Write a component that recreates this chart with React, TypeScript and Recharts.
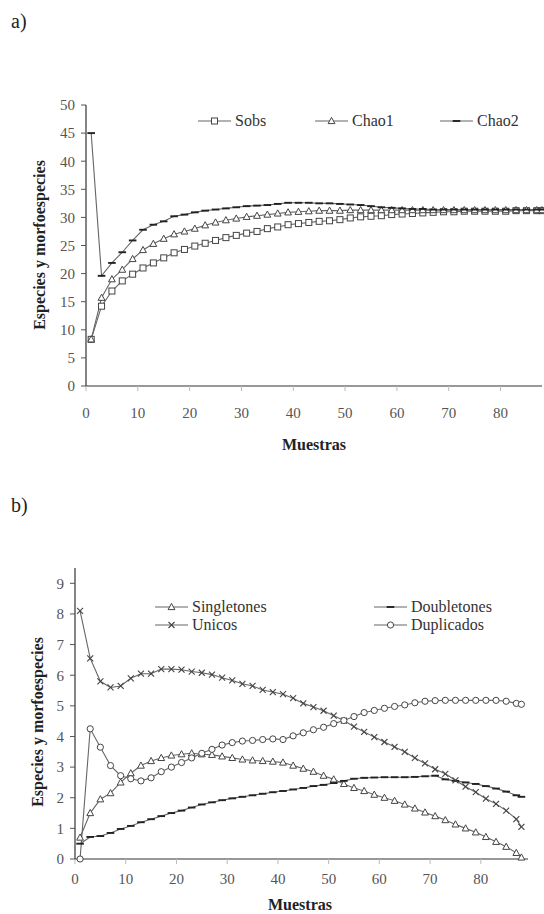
import React from 'react'
import { LineChart, Line, XAxis, YAxis, Legend } from 'recharts'

// muestras (cada 2, mas la ultima)
const muestras = [1, 3, 5, 7, 9, 11, 13, 15, 17, 19, 21, 23, 25, 27, 29, 31, 33, 35, 37, 39, 41, 43, 45, 47, 49, 51, 53, 55, 57, 59, 61, 63, 65, 67, 69, 71, 73, 75, 77, 79, 81, 83, 85, 87, 88]

// a) curvas de acumulacion
const sobs = [8.3, 14.2, 16.9, 18.7, 19.9, 21.0, 21.9, 22.8, 23.7, 24.3, 24.9, 25.4, 25.9, 26.4, 26.8, 27.2, 27.5, 28.0, 28.3, 28.7, 28.9, 29.1, 29.3, 29.4, 29.6, 29.9, 30.1, 30.2, 30.3, 30.5, 30.6, 30.7, 30.8, 30.9, 31.0, 31.0, 31.1, 31.1, 31.1, 31.1, 31.1, 31.2, 31.2, 31.2, 31.2]
const chao1 = [8.3, 15.7, 19.0, 20.7, 22.6, 24.2, 25.3, 26.2, 27.0, 27.5, 28.0, 28.6, 29.1, 29.5, 29.8, 30.1, 30.3, 30.5, 30.7, 30.9, 31.0, 31.1, 31.2, 31.2, 31.2, 31.3, 31.3, 31.3, 31.3, 31.3, 31.3, 31.3, 31.3, 31.3, 31.3, 31.3, 31.3, 31.3, 31.3, 31.3, 31.3, 31.3, 31.3, 31.3, 31.3]
const chao2 = [45, 19.6, 21.9, 23.8, 25.9, 27.8, 28.7, 29.3, 30.2, 30.5, 30.9, 31.2, 31.4, 31.6, 31.8, 32.0, 32.1, 32.2, 32.4, 32.6, 32.6, 32.6, 32.5, 32.5, 32.4, 32.3, 32.2, 32.0, 31.8, 31.7, 31.6, 31.5, 31.5, 31.4, 31.4, 31.4, 31.4, 31.4, 31.4, 31.4, 31.4, 31.4, 31.4, 31.4, 31.4]

// b) especies raras
const singletones = [0.7, 1.5, 1.95, 2.15, 2.5, 2.8, 3.05, 3.2, 3.3, 3.38, 3.42, 3.45, 3.42, 3.4, 3.35, 3.3, 3.25, 3.22, 3.2, 3.18, 3.15, 3.05, 2.95, 2.85, 2.72, 2.6, 2.45, 2.32, 2.22, 2.1, 2.0, 1.9, 1.78, 1.65, 1.52, 1.4, 1.27, 1.13, 1.0, 0.87, 0.72, 0.56, 0.4, 0.2, 0.05]
const doubletones = [0.5, 0.72, 0.75, 0.85, 0.98, 1.08, 1.2, 1.3, 1.4, 1.5, 1.58, 1.68, 1.78, 1.85, 1.92, 1.98, 2.03, 2.08, 2.13, 2.18, 2.22, 2.27, 2.32, 2.38, 2.42, 2.48, 2.55, 2.62, 2.65, 2.66, 2.67, 2.67, 2.67, 2.68, 2.7, 2.72, 2.6, 2.55, 2.5, 2.45, 2.38, 2.3, 2.2, 2.08, 2.03]
const unicos = [8.1, 6.55, 5.8, 5.6, 5.65, 5.9, 6.05, 6.05, 6.2, 6.2, 6.18, 6.12, 6.08, 6.02, 5.92, 5.83, 5.72, 5.65, 5.52, 5.45, 5.38, 5.25, 5.08, 4.96, 4.84, 4.68, 4.52, 4.32, 4.15, 3.98, 3.82, 3.66, 3.5, 3.3, 3.12, 2.93, 2.78, 2.57, 2.36, 2.18, 1.97, 1.8, 1.58, 1.3, 1.05]
const duplicados = [0, 4.25, 3.65, 3.05, 2.72, 2.62, 2.55, 2.65, 2.85, 3.0, 3.15, 3.3, 3.45, 3.58, 3.72, 3.8, 3.85, 3.87, 3.9, 3.92, 3.9, 4.02, 4.12, 4.22, 4.3, 4.42, 4.52, 4.65, 4.78, 4.85, 4.92, 4.98, 5.03, 5.1, 5.15, 5.17, 5.18, 5.18, 5.18, 5.18, 5.18, 5.18, 5.15, 5.08, 5.05]

const xTicks = [0, 10, 20, 30, 40, 50, 60, 70, 80]
const yTicksA = [0, 5, 10, 15, 20, 25, 30, 35, 40, 45, 50]
const yTicksB = [0, 1, 2, 3, 4, 5, 6, 7, 8, 9]

const dataA = muestras.map((m, i) => ({ m, sobs: sobs[i], chao1: chao1[i], chao2: chao2[i] }))
const dataB = muestras.map((m, i) => ({
  m,
  singletones: singletones[i],
  doubletones: doubletones[i],
  unicos: unicos[i],
  duplicados: duplicados[i],
}))

const SERIF = '"Liberation Serif", "Times New Roman", serif'
const INK = '#444'
const LINE = '#666'

type MarkKind = 'square' | 'triangle' | 'dash' | 'cross' | 'circle'

const Mark = ({ kind, cx, cy }: { kind: MarkKind; cx: number; cy: number }) => {
  if (kind === 'square')
    return <rect x={cx - 3} y={cy - 3} width={6} height={6} fill="#fff" stroke={INK} strokeWidth={1} />
  if (kind === 'triangle')
    return <path d={`M${cx},${cy - 3.6} L${cx + 3.4},${cy + 2.6} L${cx - 3.4},${cy + 2.6} Z`} fill="#fff" stroke={INK} strokeWidth={1} />
  if (kind === 'dash')
    return <line x1={cx - 3.8} y1={cy} x2={cx + 3.8} y2={cy} stroke="#222" strokeWidth={1.9} />
  if (kind === 'cross')
    return (
      <g stroke={INK} strokeWidth={1.1}>
        <line x1={cx - 3} y1={cy - 3} x2={cx + 3} y2={cy + 3} />
        <line x1={cx - 3} y1={cy + 3} x2={cx + 3} y2={cy - 3} />
      </g>
    )
  return <circle cx={cx} cy={cy} r={3.1} fill="#fff" stroke={INK} strokeWidth={1} />
}

const dotOf = (kind: MarkKind) => (props: any) => {
  const { cx, cy, index } = props
  if (cx == null || cy == null) return <g key={`e${index}`} />
  return (
    <g key={`${kind}-${index}`}>
      <Mark kind={kind} cx={cx} cy={cy} />
    </g>
  )
}

interface KeyItem {
  name: string
  kind: MarkKind
  left: number
  top: number
}

const keysA: KeyItem[] = [
  { name: 'Sobs', kind: 'square', left: 197, top: 121 },
  { name: 'Chao1', kind: 'triangle', left: 314, top: 121 },
  { name: 'Chao2', kind: 'dash', left: 439, top: 121 },
]
const keysB: KeyItem[] = [
  { name: 'Singletones', kind: 'triangle', left: 154, top: 127 },
  { name: 'Unicos', kind: 'cross', left: 154, top: 145 },
  { name: 'Doubletones', kind: 'dash', left: 373, top: 127 },
  { name: 'Duplicados', kind: 'circle', left: 373, top: 145 },
]

const KeyBox = ({ items }: { items: KeyItem[] }) => (
  <div style={{ position: 'relative', width: 544, height: 0 }}>
    {items.map((it) => (
      <div
        key={it.name}
        style={{
          position: 'absolute',
          left: it.left,
          top: it.top - 9,
          height: 18,
          display: 'flex',
          alignItems: 'center',
          whiteSpace: 'nowrap',
        }}
      >
        <svg width={35} height={18} style={{ display: 'block' }}>
          <line x1={1} y1={9} x2={34} y2={9} stroke={LINE} strokeWidth={1.1} />
          <Mark kind={it.kind} cx={17.5} cy={9} />
        </svg>
        <span style={{ fontFamily: SERIF, fontSize: 16, color: '#333', marginLeft: 3 }}>{it.name}</span>
      </div>
    ))}
  </div>
)

const tickText = { fill: '#555', fontSize: 15, fontFamily: SERIF }
const axisStroke = { stroke: '#333', strokeWidth: 1.2 }

const title: React.CSSProperties = {
  position: 'absolute',
  fontFamily: SERIF,
  fontWeight: 'bold',
  fontSize: 16,
  color: '#222',
  whiteSpace: 'nowrap',
}

export default function App() {
  return (
    <div style={{ position: 'absolute', left: 0, top: 0, width: 544, height: 914, background: '#fff', overflow: 'hidden' }}>
      <div style={{ ...title, fontWeight: 'normal', fontSize: 20, left: 11, top: 10 }}>a)</div>

      <div style={{ position: 'absolute', left: 0, top: 0 }}>
        <LineChart width={544} height={440} data={dataA} margin={{ top: 105, right: 2, left: 0, bottom: 24 }}>
          <XAxis
            dataKey="m"
            type="number"
            domain={[0, 87.7]}
            ticks={xTicks}
            interval={0}
            height={30}
            tick={tickText}
            tickSize={5}
            tickMargin={16}
            axisLine={axisStroke}
            tickLine={{ stroke: '#bbb' }}
          />
          <YAxis
            type="number"
            domain={[0, 50]}
            ticks={yTicksA}
            interval={0}
            width={86}
            tick={tickText}
            tickSize={5}
            tickMargin={6}
            axisLine={axisStroke}
            tickLine={{ stroke: '#555' }}
          />
          <Legend content={() => <KeyBox items={keysA} />} wrapperStyle={{ position: 'absolute', left: 0, top: 0, width: 544, height: 0 }} />
          <Line type="linear" dataKey="sobs" name="Sobs" stroke={LINE} strokeWidth={1.1} dot={dotOf('square')} activeDot={false} isAnimationActive={false} />
          <Line type="linear" dataKey="chao1" name="Chao1" stroke={LINE} strokeWidth={1.1} dot={dotOf('triangle')} activeDot={false} isAnimationActive={false} />
          <Line type="linear" dataKey="chao2" name="Chao2" stroke={LINE} strokeWidth={1.1} dot={dotOf('dash')} activeDot={false} isAnimationActive={false} />
        </LineChart>
      </div>

      <div style={{ ...title, left: 40, top: 245, transform: 'translate(-50%, -50%) rotate(-90deg)' }}>Especies y morfoespecies</div>
      <div style={{ ...title, left: 314, top: 445, transform: 'translate(-50%, -50%)' }}>Muestras</div>

      <div style={{ ...title, fontWeight: 'normal', fontSize: 20, left: 11, top: 494 }}>b)</div>

      <div style={{ position: 'absolute', left: 0, top: 480 }}>
        <LineChart width={544} height={420} data={dataB} margin={{ top: 88, right: 16, left: 0, bottom: 11 }}>
          <XAxis
            dataKey="m"
            type="number"
            domain={[0, 89.3]}
            ticks={xTicks}
            interval={0}
            height={30}
            tick={tickText}
            tickSize={5}
            tickMargin={9}
            axisLine={axisStroke}
            tickLine={{ stroke: '#bbb' }}
          />
          <YAxis
            type="number"
            domain={[0, 9.5]}
            ticks={yTicksB}
            interval={0}
            width={75}
            tick={tickText}
            tickSize={5}
            tickMargin={6}
            axisLine={axisStroke}
            tickLine={{ stroke: '#555' }}
          />
          <Legend content={() => <KeyBox items={keysB} />} wrapperStyle={{ position: 'absolute', left: 0, top: 0, width: 544, height: 0 }} />
          <Line type="linear" dataKey="singletones" name="Singletones" stroke={LINE} strokeWidth={1.1} dot={dotOf('triangle')} activeDot={false} isAnimationActive={false} />
          <Line type="linear" dataKey="doubletones" name="Doubletones" stroke={LINE} strokeWidth={1.1} dot={dotOf('dash')} activeDot={false} isAnimationActive={false} />
          <Line type="linear" dataKey="unicos" name="Unicos" stroke={LINE} strokeWidth={1.1} dot={dotOf('cross')} activeDot={false} isAnimationActive={false} />
          <Line type="linear" dataKey="duplicados" name="Duplicados" stroke={LINE} strokeWidth={1.1} dot={dotOf('circle')} activeDot={false} isAnimationActive={false} />
        </LineChart>
      </div>

      <div style={{ ...title, left: 38, top: 722, transform: 'translate(-50%, -50%) rotate(-90deg)' }}>Especies y morfoespecies</div>
      <div style={{ ...title, left: 300, top: 905, transform: 'translate(-50%, -50%)' }}>Muestras</div>
    </div>
  )
}
